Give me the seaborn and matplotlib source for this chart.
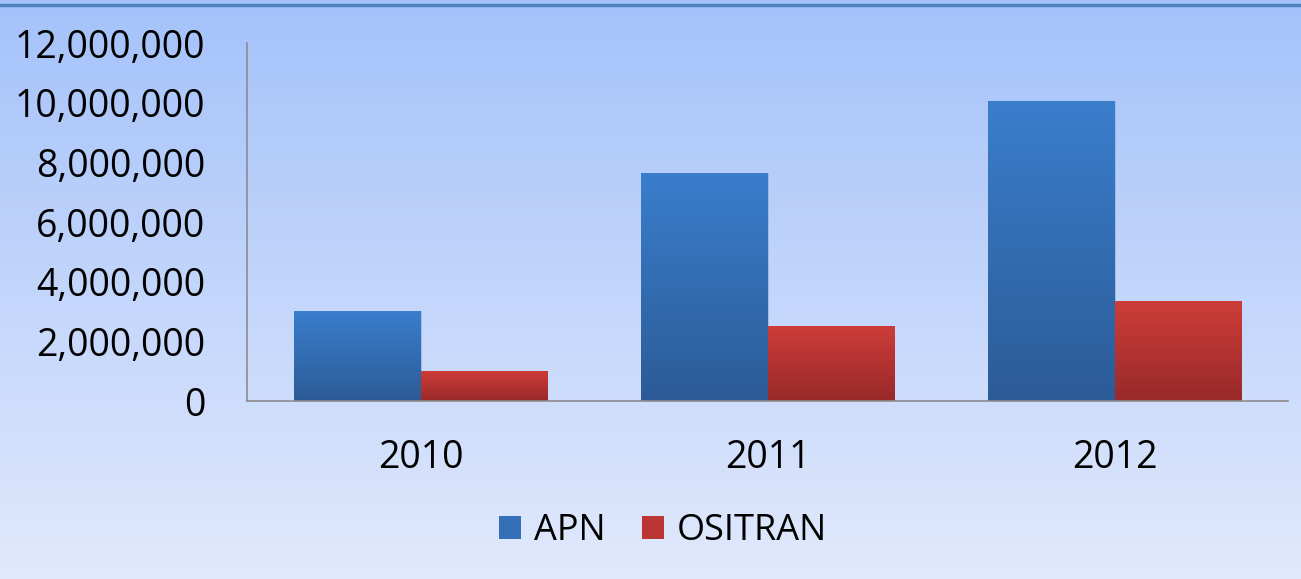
import numpy as np
import pandas as pd
import seaborn as sns
import matplotlib.pyplot as plt
from matplotlib.colors import LinearSegmentedColormap
from matplotlib.ticker import FuncFormatter

years = ['2010', '2011', '2012']
apn = [3010000, 7660000, 10070000]
ositran = [1000000, 2530000, 3360000]
series = ['APN', 'OSITRAN']

df = pd.DataFrame({'year': years * 2,
                   'value': apn + ositran,
                   'serie': [series[0]] * 3 + [series[1]] * 3})

sns.set_style('white')
plt.rcParams['font.family'] = ['Open Sans', 'DejaVu Sans']
plt.rcParams['text.color'] = 'black'
plt.rcParams['xtick.color'] = 'black'
plt.rcParams['ytick.color'] = 'black'

fig = plt.figure(figsize=(13.01, 5.79), dpi=100)

# background gradient (light blue -> almost white)
bg = fig.add_axes([0, 0, 1, 1], zorder=-2)
bg_cmap = LinearSegmentedColormap.from_list('bg', ['#a4c2fa', '#e1e9fc'])
bg.imshow(np.linspace(0, 1, 256).reshape(-1, 1), aspect='auto', cmap=bg_cmap,
          extent=[0, 1, 0, 1])
bg.axhline(0.992, color='#4f81bd', linewidth=2.5)
bg.set_xlim(0, 1)
bg.set_ylim(0, 1)
bg.axis('off')

ax = fig.add_axes([247 / 1301, 1 - 401 / 579, (1288 - 247) / 1301, (401 - 43.3) / 579])
ax.patch.set_alpha(0)
sns.barplot(data=df, x='year', y='value', hue='serie', ax=ax, width=0.73,
            palette=['#3a7cc8', '#c93b37'], saturation=1, legend=False)

# vertical gradient fill for each bar
grads = {
    0: LinearSegmentedColormap.from_list('b', ['#2c5b97', '#3a7ecc']),
    1: LinearSegmentedColormap.from_list('r', ['#98292a', '#ce3d38']),
}
grad = np.linspace(0, 1, 256).reshape(-1, 1)
for i, bar in enumerate(ax.patches[:6]):
    x0, y0 = bar.get_x(), bar.get_y()
    w, h = bar.get_width(), bar.get_height()
    im = ax.imshow(grad, aspect='auto', cmap=grads[i // 3], origin='lower',
                   extent=[x0, x0 + w, y0, y0 + h], zorder=bar.get_zorder() + 0.1)
    im.set_clip_path(bar)
    bar.set_edgecolor((1, 1, 1, 0.25))
    bar.set_linewidth(0.8)

ax.set_xlim(-0.5, 2.5)
ax.set_ylim(0, 12000000)
ax.set_yticks(range(0, 12000001, 2000000))
ax.yaxis.set_major_formatter(FuncFormatter(lambda v, p: f'{int(v):,}'))
ax.tick_params(axis='y', length=0, pad=30, labelsize=27, labelcolor='black')
ax.tick_params(axis='x', length=0, pad=27, labelsize=27, labelcolor='black')
ax.set_xlabel('')
ax.set_ylabel('')
for s in ['top', 'right']:
    ax.spines[s].set_visible(False)
for s in ['left', 'bottom']:
    ax.spines[s].set_color('#8c8c8c')
    ax.spines[s].set_linewidth(1.2)

# legend
handles = [plt.Rectangle((0, 0), 1, 1, facecolor=c, edgecolor='none')
           for c in ['#3470b8', '#bb3532']]
fig.legend(handles, series, loc='center', bbox_to_anchor=(663 / 1301, 1 - 531 / 579),
           ncol=2, frameon=False, fontsize=26, handlelength=0.62, handleheight=0.62,
           handletextpad=0.35, columnspacing=1.0, labelcolor='black')

fig.savefig('out.png', dpi=100)
